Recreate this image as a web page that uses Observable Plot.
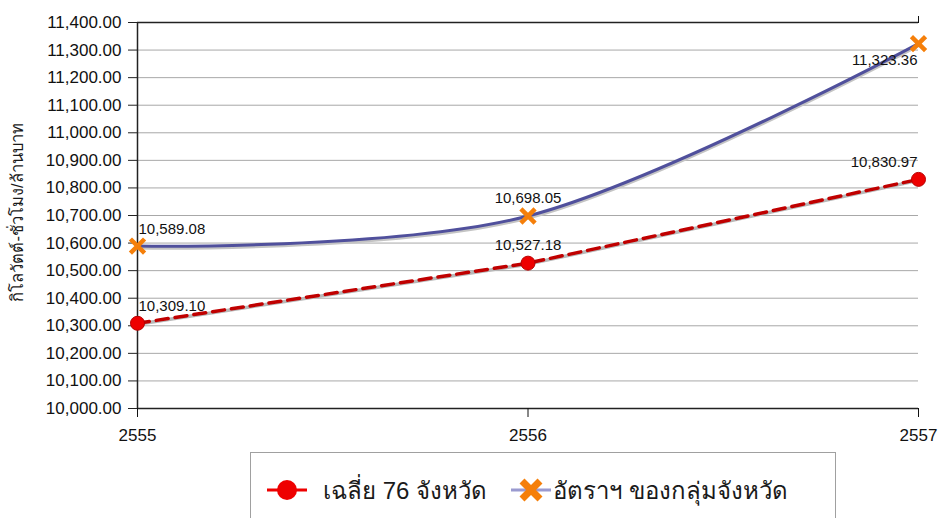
<!DOCTYPE html>
<html><head><meta charset="utf-8">
<script src="https://cdn.jsdelivr.net/npm/d3@7"></script>
<script src="https://cdn.jsdelivr.net/npm/@observablehq/plot@0.6"></script>
<style>
body{margin:0;background:#fff;font-family:"Liberation Sans",Arial,sans-serif;}
#chart{position:absolute;left:0;top:0;}
#legend{position:absolute;left:250px;top:452px;width:586px;height:80px;border:1px solid #a0a0a0;box-sizing:border-box;background:#fff;}
.item{position:absolute;top:20px;height:34px;display:flex;align-items:center;font-size:24px;color:#1a1a1a;white-space:nowrap;}
</style></head><body>
<div id="chart"></div>
<div id="legend"></div>
<script>
const years = [2555, 2556, 2557];
const avg76 = [10309.10, 10527.18, 10830.97];
const groupRate = [10589.08, 10698.05, 11323.36];
const seriesNames = ["เฉลี่ย 76 จังหวัด", "อัตราฯ ของกลุ่มจังหวัด"];
const yTicks = [10000, 10100, 10200, 10300, 10400, 10500, 10600, 10700, 10800, 10900, 11000, 11100, 11200, 11300, 11400];
const yLabel = "กิโลวัตต์-ชั่วโมง/ล้านบาท";

const red = years.map((x, i) => ({x, y: avg76[i], i}));
const blue = years.map((x, i) => ({x, y: groupRate[i], i}));
const fmt = d3.format(",.2f");
const last = years.length - 1;

function valueLabels(data, lastBelow) {
  const common = {x: "x", y: "y", text: d => fmt(d.y), fontSize: 15, fill: "#111"};
  return [
    Plot.text(data, {...common, filter: d => d.i === 0, textAnchor: "start", dx: 1, dy: -17}),
    Plot.text(data, {...common, filter: d => d.i > 0 && d.i < last, textAnchor: "middle", dy: -18}),
    Plot.text(data, {...common, filter: d => d.i === last, textAnchor: "end", dx: -1, dy: lastBelow ? 17 : -17})
  ];
}

const plot = Plot.plot({
  width: 939,
  height: 450,
  marginLeft: 137,
  marginRight: 21,
  marginTop: 22,
  marginBottom: 42,
  style: {fontFamily: "'Liberation Sans', Arial, sans-serif", color: "#111", background: "#fff"},
  x: {domain: [years[0], years[last]]},
  y: {domain: [yTicks[0], yTicks[yTicks.length - 1]]},
  marks: [
    Plot.ruleY(yTicks.slice(1, -1), {stroke: "#a8a8a8", strokeWidth: 1}),
    Plot.ruleY([yTicks[yTicks.length - 1]], {stroke: "#222", strokeWidth: 1.5}),
    Plot.ruleY([yTicks[0]], {stroke: "#222", strokeWidth: 1.5}),
    Plot.ruleX([years[0]], {stroke: "#222", strokeWidth: 1.5}),
    Plot.axisY({ticks: yTicks, tickFormat: fmt, tickSize: 9, tickPadding: 7, fontSize: 17, label: null, stroke: "#222"}),
    Plot.axisX({ticks: years, tickFormat: d => String(d), tickSize: 9, tickPadding: 11, fontSize: 17, label: null}),
    Plot.axisX({anchor: "top", ticks: [years[last]], tickFormat: () => "", tickSize: 7, label: null}),
    Plot.text([yLabel], {frameAnchor: "left", textAnchor: "middle", rotate: -90, dx: -120, dy: -3, fontSize: 16.5, fill: "#1a1a1a"}),
    // red series: gray underline + dashed red
    Plot.line(red, {x: "x", y: "y", stroke: "#b8b8b8", strokeWidth: 3.5, dy: 1}),
    Plot.line(red, {x: "x", y: "y", stroke: "#c00000", strokeWidth: 3.5, strokeDasharray: "12,7"}),
    // blue series: shadow + smooth line
    Plot.line(blue, {x: "x", y: "y", curve: "cardinal", stroke: "#c4c4c4", strokeWidth: 3, dy: 2}),
    Plot.line(blue, {x: "x", y: "y", curve: "cardinal", stroke: "#50509c", strokeWidth: 3}),
    Plot.dot(red, {x: "x", y: "y", r: 7, fill: "#ee0000", stroke: "#b80000", strokeWidth: 1}),
    Plot.dot(blue, {x: "x", y: "y", symbol: "times", r: 6.5, stroke: "#f57f0a", strokeWidth: 4.5}),
    ...valueLabels(red, false),
    ...valueLabels(blue, true)
  ]
});
document.getElementById("chart").appendChild(plot);

// Legend
const legend = document.getElementById("legend");
function swatch(kind) {
  const ns = "http://www.w3.org/2000/svg";
  const s = document.createElementNS(ns, "svg");
  s.setAttribute("width", 44); s.setAttribute("height", 34);
  const l = document.createElementNS(ns, "line");
  l.setAttribute("x1", 2); l.setAttribute("x2", 42); l.setAttribute("y1", 17); l.setAttribute("y2", 17);
  l.setAttribute("stroke", kind === 0 ? "#ee0000" : "#9a9ad0"); l.setAttribute("stroke-width", 3);
  s.appendChild(l);
  if (kind === 0) {
    const c = document.createElementNS(ns, "circle");
    c.setAttribute("cx", 22); c.setAttribute("cy", 17); c.setAttribute("r", 10);
    c.setAttribute("fill", "#ee0000");
    s.appendChild(c);
  } else {
    const p = document.createElementNS(ns, "path");
    p.setAttribute("d", "M13,8L31,26M31,8L13,26");
    p.setAttribute("stroke", "#f57f0a"); p.setAttribute("stroke-width", 7);
    s.appendChild(p);
  }
  return s;
}
const lefts = [14, 258];
const gaps = [14, 0];
seriesNames.forEach((name, k) => {
  const it = document.createElement("div");
  it.className = "item";
  it.style.left = lefts[k] + "px";
  it.appendChild(swatch(k));
  const t = document.createElement("span");
  t.textContent = name;
  t.style.marginLeft = gaps[k] + "px";
  it.appendChild(t);
  legend.appendChild(it);
});
</script>
</body></html>
